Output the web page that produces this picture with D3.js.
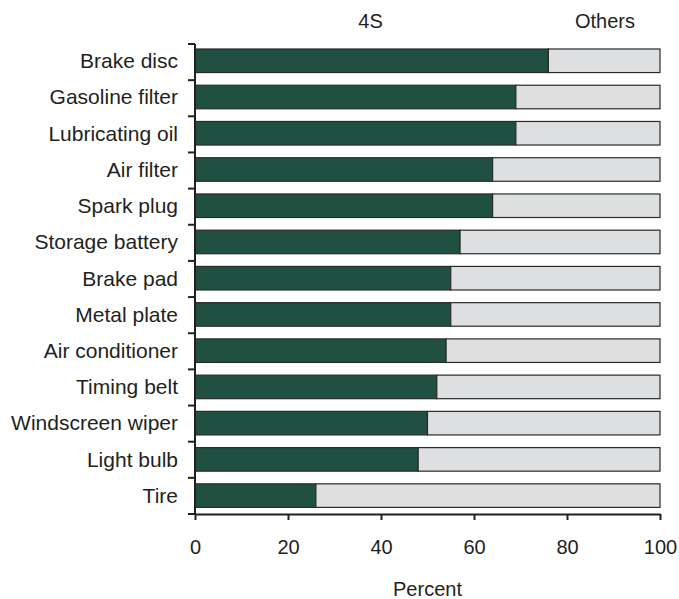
<!DOCTYPE html>
<html><head><meta charset="utf-8">
<script src="https://cdn.jsdelivr.net/npm/d3@7"></script>
<style>body{margin:0;background:#fff}svg{display:block}text{font-family:"Liberation Sans",Arial,sans-serif;fill:#231f20}</style>
</head><body>
<script>
const categories = ["Brake disc","Gasoline filter","Lubricating oil","Air filter","Spark plug","Storage battery","Brake pad","Metal plate","Air conditioner","Timing belt","Windscreen wiper","Light bulb","Tire"];
const share4S = [76,69,69,64,64,57,55,55,54,52,50,48,26];
const shareOthers = [24,31,31,36,36,43,45,45,46,48,50,52,74];
const seriesNames = ["4S","Others"];
const xTicks = [0,20,40,60,80,100];

const W = 679, H = 599;
const m = {left:195, right:19, top:44, bottom:85};
const svg = d3.select("body").append("svg").attr("width",W).attr("height",H);

const x = d3.scaleLinear().domain([0,100]).range([m.left, W - m.right]);
const y = d3.scaleBand().domain(categories).range([m.top, H - m.bottom]).paddingInner(0.35).paddingOuter(0.16);

const rows = categories.map((c,i)=>({cat:c, "4S":share4S[i], "Others":shareOthers[i]}));
const stacked = d3.stack().keys(seriesNames)(rows);
const colors = {"4S":"#1f5041","Others":"#dedfe1"};

svg.append("g").selectAll("g").data(stacked).join("g")
  .attr("fill", d=>colors[d.key])
  .selectAll("rect").data(d=>d).join("rect")
  .attr("x", d=>x(d[0]))
  .attr("width", d=>x(d[1])-x(d[0]))
  .attr("y", d=>y(d.data.cat)-0.8)
  .attr("height", y.bandwidth())
  .attr("stroke","#2a2a2a").attr("stroke-width",1.2);

// y axis
const yAxis = svg.append("g").attr("stroke","#231f20");
yAxis.append("line").attr("x1",x(0)).attr("x2",x(0)).attr("y1",m.top).attr("y2",H-m.bottom).attr("stroke-width",2);
const bounds = d3.range(categories.length+1).map(i=>m.top + i*(H-m.top-m.bottom)/categories.length);
yAxis.selectAll("line.t").data(bounds).join("line").attr("class","t")
  .attr("x1",x(0)-7).attr("x2",x(0)).attr("y1",d=>d).attr("y2",d=>d).attr("stroke-width",2);

svg.append("g").selectAll("text").data(categories).join("text")
  .attr("x", x(0)-17).attr("y", d=>y(d)+y.bandwidth()/2-1)
  .attr("text-anchor","end").attr("dominant-baseline","central")
  .attr("font-size",21).text(d=>d);

// x axis
const xAxis = svg.append("g").attr("transform",`translate(0,${H-m.bottom})`)
  .call(d3.axisBottom(x).tickValues(xTicks).tickSize(6).tickSizeOuter(0).tickPadding(20));
xAxis.select(".domain").attr("stroke","#231f20").attr("stroke-width",2);
xAxis.selectAll(".tick line").attr("stroke","#231f20").attr("stroke-width",2);
xAxis.selectAll(".tick text").attr("font-size",20).attr("font-family",'"Liberation Sans",Arial,sans-serif').attr("fill","#231f20");

svg.append("text").attr("x",(x(0)+x(100))/2).attr("y",596).attr("text-anchor","middle").attr("font-size",20).text("Percent");

// header labels
const headerX = {"4S":370.5, "Others":605};
svg.append("g").selectAll("text").data(seriesNames).join("text")
  .attr("x", d=>headerX[d]).attr("y",27.5).attr("text-anchor","middle").attr("font-size",20).text(d=>d);
</script>
</body></html>
